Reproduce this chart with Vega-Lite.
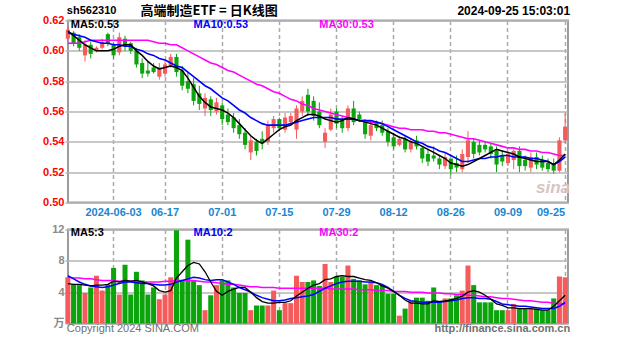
{
  "$schema": "https://vega.github.io/schema/vega-lite/v6.json",
  "padding": {"left": 41, "top": 3.5, "right": 5, "bottom": 2},
  "background": "white",
  "spacing": 27,
  "bounds": "flush",
  "config": {
    "view": {"stroke": "#9c9c9c", "strokeWidth": 2},
    "axis": {"labelFont": "Liberation Sans, Noto Sans CJK SC", "labelFontWeight": "bold", "labelFontSize": 11, "ticks": false, "domain": false, "title": null, "gridColor": "#b4b4b4", "labelOverlap": false},
    "text": {"font": "Liberation Sans, Noto Sans CJK SC"}
  },
  "datasets": {
    "k": [
      {"d":"2024-05-22","o":0.608,"h":0.616,"l":0.606,"c":0.614,"v":5.9,"m5":0.613,"m10":0.612,"m30":0.605,"v5":5.1,"v10":6.1,"v30":5.9},
      {"d":"2024-05-23","o":0.612,"h":0.613,"l":0.603,"c":0.605,"v":5.0,"m5":0.610,"m10":0.611,"m30":0.605,"v5":5.0,"v10":5.7,"v30":5.8},
      {"d":"2024-05-24","o":0.609,"h":0.611,"l":0.600,"c":0.602,"v":4.9,"m5":0.607,"m10":0.610,"m30":0.605,"v5":5.0,"v10":5.3,"v30":5.8},
      {"d":"2024-05-27","o":0.597,"h":0.607,"l":0.593,"c":0.604,"v":3.9,"m5":0.604,"m10":0.609,"m30":0.606,"v5":4.9,"v10":5.0,"v30":5.7},
      {"d":"2024-05-28","o":0.604,"h":0.606,"l":0.595,"c":0.598,"v":4.6,"m5":0.602,"m10":0.607,"m30":0.607,"v5":4.8,"v10":4.8,"v30":5.7},
      {"d":"2024-05-29","o":0.600,"h":0.603,"l":0.599,"c":0.602,"v":6.1,"m5":0.600,"m10":0.606,"m30":0.607,"v5":4.9,"v10":4.7,"v30":5.6},
      {"d":"2024-05-30","o":0.602,"h":0.608,"l":0.601,"c":0.606,"v":4.2,"m5":0.600,"m10":0.605,"m30":0.607,"v5":4.9,"v10":4.6,"v30":5.5},
      {"d":"2024-05-31","o":0.611,"h":0.612,"l":0.603,"c":0.605,"v":5.0,"m5":0.600,"m10":0.605,"m30":0.607,"v5":5.0,"v10":4.7,"v30":5.5},
      {"d":"2024-06-03","o":0.604,"h":0.605,"l":0.595,"c":0.597,"v":7.1,"m5":0.601,"m10":0.604,"m30":0.607,"v5":5.4,"v10":4.9,"v30":5.5},
      {"d":"2024-06-04","o":0.599,"h":0.612,"l":0.597,"c":0.609,"v":3.7,"m5":0.603,"m10":0.604,"m30":0.607,"v5":5.3,"v10":5.1,"v30":5.4},
      {"d":"2024-06-05","o":0.608,"h":0.610,"l":0.600,"c":0.603,"v":7.5,"m5":0.604,"m10":0.603,"m30":0.607,"v5":5.5,"v10":5.3,"v30":5.4},
      {"d":"2024-06-06","o":0.605,"h":0.606,"l":0.598,"c":0.600,"v":3.7,"m5":0.604,"m10":0.603,"m30":0.607,"v5":5.4,"v10":5.3,"v30":5.4},
      {"d":"2024-06-07","o":0.600,"h":0.602,"l":0.589,"c":0.591,"v":6.6,"m5":0.600,"m10":0.601,"m30":0.607,"v5":5.5,"v10":5.2,"v30":5.3},
      {"d":"2024-06-11","o":0.592,"h":0.595,"l":0.582,"c":0.585,"v":5.5,"m5":0.597,"m10":0.600,"m30":0.607,"v5":5.3,"v10":5.1,"v30":5.3},
      {"d":"2024-06-12","o":0.587,"h":0.593,"l":0.583,"c":0.585,"v":3.7,"m5":0.593,"m10":0.598,"m30":0.607,"v5":5.1,"v10":5.1,"v30":5.3},
      {"d":"2024-06-13","o":0.589,"h":0.592,"l":0.585,"c":0.586,"v":4.6,"m5":0.590,"m10":0.597,"m30":0.606,"v5":4.8,"v10":5.0,"v30":5.3},
      {"d":"2024-06-14","o":0.583,"h":0.592,"l":0.581,"c":0.589,"v":3.1,"m5":0.588,"m10":0.595,"m30":0.605,"v5":4.2,"v10":4.9,"v30":5.3},
      {"d":"2024-06-17","o":0.585,"h":0.593,"l":0.583,"c":0.591,"v":3.7,"m5":0.589,"m10":0.594,"m30":0.605,"v5":4.0,"v10":4.9,"v30":5.4},
      {"d":"2024-06-18","o":0.590,"h":0.598,"l":0.589,"c":0.596,"v":5.9,"m5":0.590,"m10":0.592,"m30":0.604,"v5":4.2,"v10":5.0,"v30":5.4},
      {"d":"2024-06-19","o":0.596,"h":0.598,"l":0.583,"c":0.586,"v":11.9,"m5":0.589,"m10":0.590,"m30":0.604,"v5":5.8,"v10":5.3,"v30":5.5},
      {"d":"2024-06-20","o":0.587,"h":0.590,"l":0.574,"c":0.577,"v":5.5,"m5":0.587,"m10":0.589,"m30":0.602,"v5":6.6,"v10":5.5,"v30":5.5},
      {"d":"2024-06-21","o":0.580,"h":0.586,"l":0.572,"c":0.575,"v":10.7,"m5":0.582,"m10":0.586,"m30":0.600,"v5":7.4,"v10":5.7,"v30":5.5},
      {"d":"2024-06-24","o":0.578,"h":0.582,"l":0.564,"c":0.567,"v":5.5,"m5":0.576,"m10":0.583,"m30":0.598,"v5":7.8,"v10":5.9,"v30":5.5},
      {"d":"2024-06-25","o":0.572,"h":0.577,"l":0.561,"c":0.565,"v":4.9,"m5":0.570,"m10":0.580,"m30":0.596,"v5":7.6,"v10":5.8,"v30":5.4},
      {"d":"2024-06-26","o":0.562,"h":0.572,"l":0.557,"c":0.569,"v":1.7,"m5":0.566,"m10":0.577,"m30":0.594,"v5":6.6,"v10":5.6,"v30":5.3},
      {"d":"2024-06-27","o":0.568,"h":0.570,"l":0.557,"c":0.561,"v":3.6,"m5":0.563,"m10":0.575,"m30":0.592,"v5":5.3,"v10":5.5,"v30":5.3},
      {"d":"2024-06-28","o":0.560,"h":0.569,"l":0.558,"c":0.566,"v":4.9,"m5":0.562,"m10":0.572,"m30":0.591,"v5":4.1,"v10":5.6,"v30":5.2},
      {"d":"2024-07-01","o":0.564,"h":0.566,"l":0.551,"c":0.555,"v":5.5,"m5":0.561,"m10":0.569,"m30":0.589,"v5":3.6,"v10":5.6,"v30":5.1},
      {"d":"2024-07-02","o":0.558,"h":0.562,"l":0.551,"c":0.553,"v":5.5,"m5":0.559,"m10":0.567,"m30":0.587,"v5":4.1,"v10":5.3,"v30":5.0},
      {"d":"2024-07-03","o":0.556,"h":0.559,"l":0.546,"c":0.549,"v":4.6,"m5":0.556,"m10":0.564,"m30":0.586,"v5":4.4,"v10":5.0,"v30":5.0},
      {"d":"2024-07-04","o":0.551,"h":0.555,"l":0.542,"c":0.545,"v":3.9,"m5":0.552,"m10":0.561,"m30":0.584,"v5":4.6,"v10":4.6,"v30":4.9},
      {"d":"2024-07-05","o":0.546,"h":0.549,"l":0.535,"c":0.538,"v":3.9,"m5":0.548,"m10":0.559,"m30":0.582,"v5":4.6,"v10":4.3,"v30":4.8},
      {"d":"2024-07-08","o":0.533,"h":0.544,"l":0.528,"c":0.541,"v":1.7,"m5":0.544,"m10":0.556,"m30":0.580,"v5":4.0,"v10":4.0,"v30":4.7},
      {"d":"2024-07-09","o":0.540,"h":0.542,"l":0.531,"c":0.534,"v":2.3,"m5":0.541,"m10":0.554,"m30":0.578,"v5":3.3,"v10":3.6,"v30":4.7},
      {"d":"2024-07-10","o":0.542,"h":0.547,"l":0.535,"c":0.539,"v":2.3,"m5":0.539,"m10":0.552,"m30":0.577,"v5":2.8,"v10":3.3,"v30":4.6},
      {"d":"2024-07-11","o":0.540,"h":0.554,"l":0.538,"c":0.551,"v":2.3,"m5":0.542,"m10":0.551,"m30":0.575,"v5":2.6,"v10":3.1,"v30":4.6},
      {"d":"2024-07-12","o":0.549,"h":0.557,"l":0.546,"c":0.555,"v":4.2,"m5":0.545,"m10":0.551,"m30":0.573,"v5":2.6,"v10":2.9,"v30":4.6},
      {"d":"2024-07-15","o":0.555,"h":0.556,"l":0.547,"c":0.549,"v":1.7,"m5":0.548,"m10":0.551,"m30":0.572,"v5":2.7,"v10":2.9,"v30":4.5},
      {"d":"2024-07-16","o":0.548,"h":0.559,"l":0.546,"c":0.556,"v":2.6,"m5":0.550,"m10":0.551,"m30":0.570,"v5":2.7,"v10":3.0,"v30":4.5},
      {"d":"2024-07-17","o":0.553,"h":0.559,"l":0.551,"c":0.557,"v":2.6,"m5":0.551,"m10":0.552,"m30":0.568,"v5":2.9,"v10":3.2,"v30":4.5},
      {"d":"2024-07-18","o":0.548,"h":0.564,"l":0.542,"c":0.562,"v":6.1,"m5":0.554,"m10":0.553,"m30":0.567,"v5":3.5,"v10":3.3,"v30":4.5},
      {"d":"2024-07-19","o":0.560,"h":0.570,"l":0.557,"c":0.567,"v":5.3,"m5":0.556,"m10":0.554,"m30":0.565,"v5":4.0,"v10":3.4,"v30":4.5},
      {"d":"2024-07-22","o":0.571,"h":0.575,"l":0.557,"c":0.560,"v":5.3,"m5":0.558,"m10":0.555,"m30":0.564,"v5":4.5,"v10":3.5,"v30":4.5},
      {"d":"2024-07-23","o":0.567,"h":0.570,"l":0.554,"c":0.557,"v":5.5,"m5":0.558,"m10":0.556,"m30":0.562,"v5":4.9,"v10":3.7,"v30":4.5},
      {"d":"2024-07-24","o":0.560,"h":0.566,"l":0.549,"c":0.551,"v":4.8,"m5":0.557,"m10":0.556,"m30":0.561,"v5":5.1,"v10":4.1,"v30":4.5},
      {"d":"2024-07-25","o":0.540,"h":0.549,"l":0.536,"c":0.546,"v":7.6,"m5":0.555,"m10":0.556,"m30":0.560,"v5":5.6,"v10":4.5,"v30":4.5},
      {"d":"2024-07-26","o":0.548,"h":0.562,"l":0.547,"c":0.558,"v":5.3,"m5":0.554,"m10":0.556,"m30":0.559,"v5":5.7,"v10":4.8,"v30":4.4},
      {"d":"2024-07-29","o":0.560,"h":0.562,"l":0.549,"c":0.552,"v":6.0,"m5":0.553,"m10":0.555,"m30":0.558,"v5":6.0,"v10":5.1,"v30":4.4},
      {"d":"2024-07-30","o":0.555,"h":0.557,"l":0.546,"c":0.549,"v":6.0,"m5":0.554,"m10":0.555,"m30":0.557,"v5":6.1,"v10":5.3,"v30":4.4},
      {"d":"2024-07-31","o":0.549,"h":0.564,"l":0.547,"c":0.562,"v":7.4,"m5":0.556,"m10":0.555,"m30":0.556,"v5":6.0,"v10":5.4,"v30":4.4},
      {"d":"2024-08-01","o":0.562,"h":0.567,"l":0.551,"c":0.553,"v":5.7,"m5":0.555,"m10":0.555,"m30":0.555,"v5":6.0,"v10":5.4,"v30":4.4},
      {"d":"2024-08-02","o":0.558,"h":0.560,"l":0.553,"c":0.555,"v":5.5,"m5":0.554,"m10":0.554,"m30":0.554,"v5":5.8,"v10":5.4,"v30":4.3},
      {"d":"2024-08-05","o":0.553,"h":0.555,"l":0.542,"c":0.545,"v":5.0,"m5":0.553,"m10":0.554,"m30":0.554,"v5":5.6,"v10":5.3,"v30":4.3},
      {"d":"2024-08-06","o":0.544,"h":0.554,"l":0.541,"c":0.551,"v":5.3,"m5":0.552,"m10":0.554,"m30":0.553,"v5":5.5,"v10":5.3,"v30":4.3},
      {"d":"2024-08-07","o":0.553,"h":0.554,"l":0.547,"c":0.549,"v":4.9,"m5":0.551,"m10":0.553,"m30":0.553,"v5":5.2,"v10":5.2,"v30":4.2},
      {"d":"2024-08-08","o":0.551,"h":0.554,"l":0.544,"c":0.546,"v":4.9,"m5":0.549,"m10":0.552,"m30":0.552,"v5":4.8,"v10":5.0,"v30":4.2},
      {"d":"2024-08-09","o":0.547,"h":0.549,"l":0.537,"c":0.540,"v":3.8,"m5":0.547,"m10":0.550,"m30":0.551,"v5":4.5,"v10":4.6,"v30":4.2},
      {"d":"2024-08-12","o":0.543,"h":0.546,"l":0.535,"c":0.537,"v":3.8,"m5":0.545,"m10":0.548,"m30":0.550,"v5":4.1,"v10":4.1,"v30":4.1},
      {"d":"2024-08-13","o":0.538,"h":0.544,"l":0.537,"c":0.542,"v":1.0,"m5":0.543,"m10":0.546,"m30":0.549,"v5":3.6,"v10":3.6,"v30":4.1},
      {"d":"2024-08-14","o":0.542,"h":0.544,"l":0.533,"c":0.535,"v":1.9,"m5":0.542,"m10":0.544,"m30":0.549,"v5":3.0,"v10":3.2,"v30":4.1},
      {"d":"2024-08-15","o":0.535,"h":0.542,"l":0.533,"c":0.540,"v":2.9,"m5":0.540,"m10":0.542,"m30":0.548,"v5":2.6,"v10":2.9,"v30":4.0},
      {"d":"2024-08-16","o":0.541,"h":0.544,"l":0.535,"c":0.537,"v":3.3,"m5":0.539,"m10":0.540,"m30":0.548,"v5":2.6,"v10":2.8,"v30":4.0},
      {"d":"2024-08-19","o":0.536,"h":0.537,"l":0.526,"c":0.529,"v":3.3,"m5":0.537,"m10":0.539,"m30":0.548,"v5":2.5,"v10":2.7,"v30":4.0},
      {"d":"2024-08-20","o":0.532,"h":0.535,"l":0.524,"c":0.527,"v":2.9,"m5":0.535,"m10":0.537,"m30":0.547,"v5":2.5,"v10":2.7,"v30":3.9},
      {"d":"2024-08-21","o":0.531,"h":0.537,"l":0.527,"c":0.529,"v":4.6,"m5":0.533,"m10":0.536,"m30":0.547,"v5":2.9,"v10":2.7,"v30":3.9},
      {"d":"2024-08-22","o":0.529,"h":0.531,"l":0.522,"c":0.525,"v":2.9,"m5":0.531,"m10":0.534,"m30":0.546,"v5":2.8,"v10":2.7,"v30":3.9},
      {"d":"2024-08-23","o":0.524,"h":0.533,"l":0.522,"c":0.530,"v":3.2,"m5":0.529,"m10":0.533,"m30":0.546,"v5":2.9,"v10":2.8,"v30":3.8},
      {"d":"2024-08-26","o":0.529,"h":0.529,"l":0.518,"c":0.522,"v":3.2,"m5":0.526,"m10":0.531,"m30":0.545,"v5":3.0,"v10":2.9,"v30":3.8},
      {"d":"2024-08-27","o":0.526,"h":0.531,"l":0.520,"c":0.523,"v":3.6,"m5":0.525,"m10":0.529,"m30":0.544,"v5":3.2,"v10":3.0,"v30":3.7},
      {"d":"2024-08-28","o":0.522,"h":0.535,"l":0.520,"c":0.532,"v":4.2,"m5":0.524,"m10":0.527,"m30":0.543,"v5":3.5,"v10":3.2,"v30":3.7},
      {"d":"2024-08-29","o":0.530,"h":0.547,"l":0.526,"c":0.541,"v":7.4,"m5":0.525,"m10":0.527,"m30":0.542,"v5":4.0,"v10":3.3,"v30":3.6},
      {"d":"2024-08-30","o":0.540,"h":0.542,"l":0.529,"c":0.532,"v":4.9,"m5":0.527,"m10":0.528,"m30":0.542,"v5":4.2,"v10":3.3,"v30":3.6},
      {"d":"2024-09-02","o":0.538,"h":0.541,"l":0.531,"c":0.533,"v":2.7,"m5":0.529,"m10":0.529,"m30":0.541,"v5":4.0,"v10":3.2,"v30":3.5},
      {"d":"2024-09-03","o":0.538,"h":0.540,"l":0.533,"c":0.535,"v":2.7,"m5":0.531,"m10":0.529,"m30":0.540,"v5":3.6,"v10":3.2,"v30":3.4},
      {"d":"2024-09-04","o":0.537,"h":0.539,"l":0.529,"c":0.532,"v":2.7,"m5":0.533,"m10":0.530,"m30":0.539,"v5":3.1,"v10":3.1,"v30":3.4},
      {"d":"2024-09-05","o":0.534,"h":0.537,"l":0.520,"c":0.525,"v":1.7,"m5":0.535,"m10":0.530,"m30":0.538,"v5":2.5,"v10":2.8,"v30":3.3},
      {"d":"2024-09-06","o":0.531,"h":0.534,"l":0.524,"c":0.527,"v":1.7,"m5":0.534,"m10":0.531,"m30":0.537,"v5":2.3,"v10":2.5,"v30":3.2},
      {"d":"2024-09-09","o":0.526,"h":0.534,"l":0.524,"c":0.532,"v":1.7,"m5":0.533,"m10":0.531,"m30":0.536,"v5":2.0,"v10":2.4,"v30":3.2},
      {"d":"2024-09-10","o":0.528,"h":0.535,"l":0.522,"c":0.534,"v":2.5,"m5":0.532,"m10":0.530,"m30":0.536,"v5":2.0,"v10":2.3,"v30":3.1},
      {"d":"2024-09-11","o":0.534,"h":0.537,"l":0.520,"c":0.524,"v":1.9,"m5":0.530,"m10":0.530,"m30":0.535,"v5":1.9,"v10":2.2,"v30":3.0},
      {"d":"2024-09-12","o":0.528,"h":0.531,"l":0.521,"c":0.524,"v":1.9,"m5":0.529,"m10":0.530,"m30":0.535,"v5":1.9,"v10":2.2,"v30":2.9},
      {"d":"2024-09-13","o":0.523,"h":0.533,"l":0.520,"c":0.530,"v":1.9,"m5":0.528,"m10":0.529,"m30":0.534,"v5":1.9,"v10":2.1,"v30":2.9},
      {"d":"2024-09-18","o":0.530,"h":0.533,"l":0.522,"c":0.525,"v":1.9,"m5":0.527,"m10":0.529,"m30":0.534,"v5":1.8,"v10":2.0,"v30":2.8},
      {"d":"2024-09-19","o":0.528,"h":0.531,"l":0.521,"c":0.523,"v":1.7,"m5":0.527,"m10":0.528,"m30":0.533,"v5":1.7,"v10":1.9,"v30":2.7},
      {"d":"2024-09-20","o":0.526,"h":0.529,"l":0.520,"c":0.522,"v":1.7,"m5":0.527,"m10":0.527,"m30":0.533,"v5":1.7,"v10":1.9,"v30":2.7},
      {"d":"2024-09-23","o":0.526,"h":0.529,"l":0.519,"c":0.521,"v":3.2,"m5":0.525,"m10":0.525,"m30":0.532,"v5":2.2,"v10":1.9,"v30":2.6},
      {"d":"2024-09-24","o":0.521,"h":0.543,"l":0.520,"c":0.541,"v":6.0,"m5":0.528,"m10":0.527,"m30":0.531,"v5":2.9,"v10":2.2,"v30":2.5},
      {"d":"2024-09-25","o":0.541,"h":0.559,"l":0.539,"c":0.550,"v":5.9,"m5":0.532,"m10":0.530,"m30":0.531,"v5":3.6,"v10":2.7,"v30":2.5}
    ]
  },
  "vconcat": [
    {
      "width": 500,
      "height": 182,
      "data": {"name": "k"},
      "encoding": {
        "x": {
          "field": "d", "type": "ordinal", "sort": "ascending",
          "scale": {"paddingInner": 0, "paddingOuter": 0, "range": [-3, 500]},
          "axis": {
            "values": ["2024-06-03","2024-06-17","2024-07-01","2024-07-15","2024-07-29","2024-08-12","2024-08-26","2024-09-09","2024-09-25"],
            "labelExpr": "datum.value == '2024-06-03' ? datum.value : slice(datum.value, 5)",
            "labelAngle": 0, "labelColor": "#1a86d0", "labelPadding": 4, "labelFlush": 6,
            "bandPosition": 0.5,
            "grid": true, "gridDash": [4, 3], "gridWidth": 1.5, "gridColor": "#aaaaaa"
          }
        }
      },
      "layer": [
        {
          "mark": {"type": "rule", "strokeWidth": 1},
          "encoding": {
            "y": {"field": "l", "type": "quantitative", "scale": {"domain": [0.5, 0.62], "nice": false, "zero": false},
              "axis": {"values": [0.5, 0.52, 0.54, 0.56, 0.58, 0.6, 0.62], "tickCount": 20, "format": ".2f", "labelColor": "#ff0000", "labelPadding": 4, "labelOverlap": false, "grid": true, "gridWidth": 1.5, "gridColor": "#b4b4b4"}},
            "y2": {"field": "h"},
            "color": {"condition": {"test": "datum.c >= datum.o", "value": "#f65b5b"}, "value": "#0ca40c"}
          }
        },
        {
          "mark": {"type": "bar", "width": {"band": 0.72}},
          "encoding": {
            "y": {"field": "o", "type": "quantitative"},
            "y2": {"field": "c"},
            "color": {"condition": {"test": "datum.c >= datum.o", "value": "#f65b5b"}, "value": "#0ca40c"}
          }
        },
        {"mark": {"type": "line", "color": "#ff00ff", "strokeWidth": 1.6}, "encoding": {"y": {"field": "m30", "type": "quantitative"}}},
        {"mark": {"type": "line", "color": "#0000ff", "strokeWidth": 1.6}, "encoding": {"y": {"field": "m10", "type": "quantitative"}}},
        {"mark": {"type": "line", "color": "#000000", "strokeWidth": 1.5}, "encoding": {"y": {"field": "m5", "type": "quantitative"}}},
        {
          "data": {"values": [{}]},
          "mark": {"type": "text", "align": "left", "baseline": "middle", "dx": -1, "fontSize": 11, "fontWeight": "bold", "color": "#000000", "text": "sh562310"},
          "encoding": {"x": {"datum": "2024-05-22", "type": "ordinal"}, "y": {"datum": 0.6262, "type": "quantitative"}}
        },
        {
          "data": {"values": [{}]},
          "mark": {"type": "text", "align": "left", "baseline": "middle", "dx": 4, "fontSize": 13, "fontWeight": "bold", "font": "Noto Sans CJK SC", "color": "#000000", "text": "高端制造ETF = 日K线图"},
          "encoding": {"x": {"datum": "2024-06-07", "type": "ordinal"}, "y": {"datum": 0.6262, "type": "quantitative"}}
        },
        {
          "data": {"values": [{}]},
          "mark": {"type": "text", "align": "right", "baseline": "middle", "dx": 5, "fontSize": 12, "fontWeight": "bold", "color": "#000000", "text": "2024-09-25 15:03:01"},
          "encoding": {"x": {"datum": "2024-09-25", "type": "ordinal"}, "y": {"datum": 0.6262, "type": "quantitative"}}
        },
        {
          "data": {"values": [{}]},
          "mark": {"type": "text", "align": "left", "baseline": "middle", "dx": 3, "fontSize": 11, "fontWeight": "bold", "color": "#000000", "text": "MA5:0.53"},
          "encoding": {"x": {"datum": "2024-05-22", "type": "ordinal"}, "y": {"datum": 0.6168, "type": "quantitative"}}
        },
        {
          "data": {"values": [{}]},
          "mark": {"type": "text", "align": "left", "baseline": "middle", "dx": 0, "fontSize": 11, "fontWeight": "bold", "color": "#0000ff", "text": "MA10:0.53"},
          "encoding": {"x": {"datum": "2024-06-24", "type": "ordinal"}, "y": {"datum": 0.6168, "type": "quantitative"}}
        },
        {
          "data": {"values": [{}]},
          "mark": {"type": "text", "align": "left", "baseline": "middle", "dx": 0, "fontSize": 11, "fontWeight": "bold", "color": "#ff00ff", "text": "MA30:0.53"},
          "encoding": {"x": {"datum": "2024-07-24", "type": "ordinal"}, "y": {"datum": 0.6168, "type": "quantitative"}}
        },
        {
          "data": {"values": [{}]},
          "mark": {"type": "text", "align": "center", "baseline": "middle", "dx": 5, "fontSize": 17, "fontWeight": "bold", "fontStyle": "italic", "color": "#d8c4c4", "text": "sina"},
          "encoding": {"x": {"datum": "2024-09-20", "type": "ordinal"}, "y": {"datum": 0.5098, "type": "quantitative"}}
        }
      ]
    },
    {
      "width": 500,
      "height": 94,
      "data": {"name": "k"},
      "encoding": {
        "x": {
          "field": "d", "type": "ordinal", "sort": "ascending",
          "scale": {"paddingInner": 0, "paddingOuter": 0, "range": [-3, 500]},
          "axis": {
            "values": ["2024-06-03","2024-06-17","2024-07-01","2024-07-15","2024-07-29","2024-08-12","2024-08-26","2024-09-09","2024-09-25"],
            "labels": false, "bandPosition": 0.5,
            "grid": true, "gridDash": [4, 3], "gridWidth": 1.5, "gridColor": "#aaaaaa"
          }
        }
      },
      "layer": [
        {
          "mark": {"type": "bar", "width": {"band": 0.88}},
          "encoding": {
            "y": {"field": "v", "type": "quantitative", "scale": {"domain": [0, 12], "nice": false},
              "axis": {"values": [0, 4, 8, 12], "tickCount": 20, "format": "d", "labelColor": "#8a8a8a", "labelPadding": 4, "labelOverlap": false, "labelExpr": "datum.value == 0 ? '万' : datum.label", "grid": true, "gridWidth": 1.5, "gridColor": "#b4b4b4"}},
            "color": {"condition": {"test": "datum.c >= datum.o", "value": "#f65b5b"}, "value": "#0ca40c"}
          }
        },
        {"mark": {"type": "line", "color": "#ff00ff", "strokeWidth": 1.5}, "encoding": {"y": {"field": "v30", "type": "quantitative"}}},
        {"mark": {"type": "line", "color": "#0000ff", "strokeWidth": 1.5}, "encoding": {"y": {"field": "v10", "type": "quantitative"}}},
        {"mark": {"type": "line", "color": "#000000", "strokeWidth": 1.3}, "encoding": {"y": {"field": "v5", "type": "quantitative"}}},
        {
          "data": {"values": [{}]},
          "mark": {"type": "text", "align": "left", "baseline": "middle", "dx": 3, "fontSize": 11, "fontWeight": "bold", "color": "#000000", "text": "MA5:3"},
          "encoding": {"x": {"datum": "2024-05-22", "type": "ordinal"}, "y": {"datum": 11.5, "type": "quantitative"}}
        },
        {
          "data": {"values": [{}]},
          "mark": {"type": "text", "align": "left", "baseline": "middle", "dx": 0, "fontSize": 11, "fontWeight": "bold", "color": "#0000ff", "text": "MA10:2"},
          "encoding": {"x": {"datum": "2024-06-24", "type": "ordinal"}, "y": {"datum": 11.5, "type": "quantitative"}}
        },
        {
          "data": {"values": [{}]},
          "mark": {"type": "text", "align": "left", "baseline": "middle", "dx": 0, "fontSize": 11, "fontWeight": "bold", "color": "#ff00ff", "text": "MA30:2"},
          "encoding": {"x": {"datum": "2024-07-24", "type": "ordinal"}, "y": {"datum": 11.5, "type": "quantitative"}}
        },
        {
          "data": {"values": [{}]},
          "mark": {"type": "text", "align": "left", "baseline": "middle", "dx": -1, "fontSize": 11, "color": "#707070", "text": "Copyright 2024 SINA.COM"},
          "encoding": {"x": {"datum": "2024-05-22", "type": "ordinal"}, "y": {"datum": -0.65, "type": "quantitative"}}
        },
        {
          "data": {"values": [{}]},
          "mark": {"type": "text", "align": "right", "baseline": "middle", "dx": 5, "fontSize": 11, "fontWeight": "bold", "color": "#707070", "text": "http://finance.sina.com.cn"},
          "encoding": {"x": {"datum": "2024-09-25", "type": "ordinal"}, "y": {"datum": -0.65, "type": "quantitative"}}
        }
      ]
    }
  ]
}
